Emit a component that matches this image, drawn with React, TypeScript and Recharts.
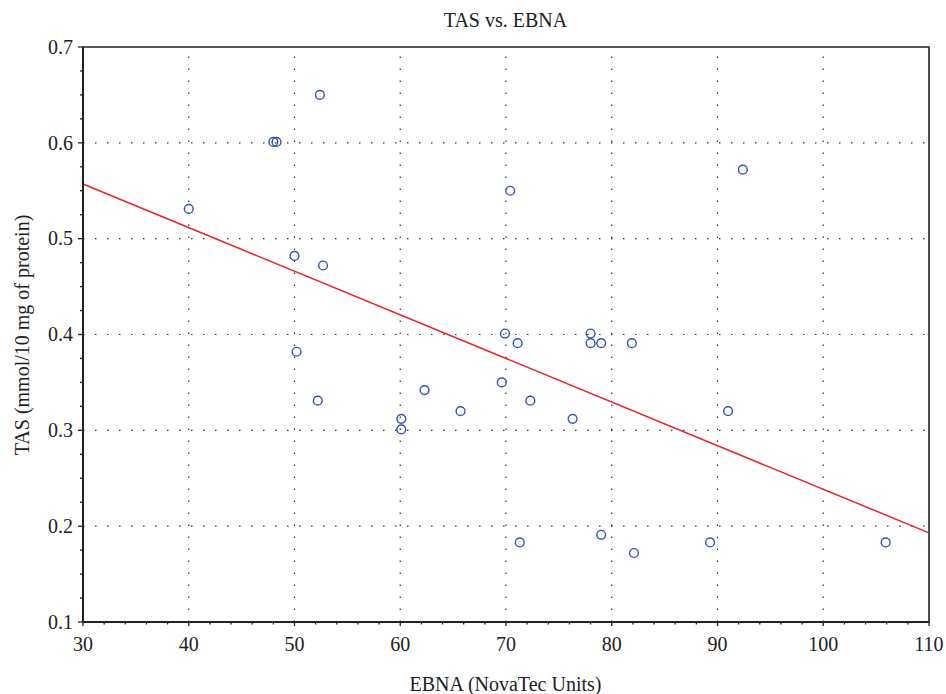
import React from 'react';
import { ScatterChart, Scatter, XAxis, YAxis, ReferenceLine, ReferenceArea, Label } from 'recharts';

// EBNA (NovaTec Units) values
const ebna = [52.4, 48.0, 48.3, 40.0, 50.0, 52.7, 50.2, 52.2, 60.1, 60.1, 62.3, 65.7, 69.9, 71.1, 78.0, 78.0, 79.0, 81.9, 70.4, 92.4, 69.6, 72.3, 76.3, 91.0, 71.3, 79.0, 82.1, 89.3, 105.9];
// TAS (mmol/10 mg of protein) values
const tas = [0.65, 0.601, 0.601, 0.531, 0.482, 0.472, 0.382, 0.331, 0.312, 0.301, 0.342, 0.32, 0.401, 0.391, 0.401, 0.391, 0.391, 0.391, 0.55, 0.572, 0.35, 0.331, 0.312, 0.32, 0.183, 0.191, 0.172, 0.183, 0.183];

const xTicks = [30, 32, 34, 36, 38, 40, 42, 44, 46, 48, 50, 52, 54, 56, 58, 60, 62, 64, 66, 68, 70, 72, 74, 76, 78, 80, 82, 84, 86, 88, 90, 92, 94, 96, 98, 100, 102, 104, 106, 108, 110];
const yTicks = [0.1, 0.125, 0.15, 0.175, 0.2, 0.225, 0.25, 0.275, 0.3, 0.325, 0.35, 0.375, 0.4, 0.425, 0.45, 0.475, 0.5, 0.525, 0.55, 0.575, 0.6, 0.625, 0.65, 0.675, 0.7];
const xGrid = [40, 50, 60, 70, 80, 90, 100];
const yGrid = [0.2, 0.3, 0.4, 0.5, 0.6];
const xDomain = [30, 110];
const yDomain = [0.1, 0.7];

// fitted regression line end points
const fitX = [30, 110];
const fitY = [0.557, 0.193];

const title = 'TAS vs. EBNA';
const xLabel = 'EBNA (NovaTec Units)';
const yLabel = 'TAS (mmol/10 mg of protein)';

const data = ebna.map((x, i) => ({ x, y: tas[i] }));

const FONT = '"Liberation Serif", "Times New Roman", serif';
const TXT = '#222';
const FS = 20;

const isMajor = (v: number, step: number) => Math.abs(v / step - Math.round(v / step)) < 1e-6;

const XTick = (props: any) => {
  const { x, y, payload } = props;
  const major = isMajor(payload.value, 10);
  return (
    <g>
      <line x1={x} x2={x} y1={y} y2={y + (major ? 4 : 2.5)} stroke="#222" strokeWidth={1.3} />
      {major && (
        <text x={x} y={y + 28.5} textAnchor="middle" fontFamily={FONT} fontSize={FS} fill={TXT}>
          {payload.value}
        </text>
      )}
    </g>
  );
};

const YTick = (props: any) => {
  const { x, y, payload } = props;
  const major = isMajor(payload.value, 0.1);
  return (
    <g>
      <line x1={x - (major ? 5 : 3)} x2={x} y1={y} y2={y} stroke="#222" strokeWidth={1.3} />
      {major && (
        <text x={x - 10} y={y + 6.8} textAnchor="end" fontFamily={FONT} fontSize={FS} fill={TXT}>
          {payload.value.toFixed(1)}
        </text>
      )}
    </g>
  );
};

const Dot = (props: any) => (
  <circle cx={props.cx} cy={props.cy} r={4.4} fill="none" stroke="#3552b0" strokeWidth={1.4} />
);

export default function App() {
  return (
    <div style={{ position: 'absolute', left: 0, top: 0 }}>
      <ScatterChart width={946} height={694} margin={{ top: 47, right: 17, bottom: 0, left: 0 }}>
        <XAxis
          type="number"
          dataKey="x"
          domain={xDomain}
          ticks={xTicks}
          interval={0}
          allowDataOverflow
          height={72}
          tickSize={0}
          tickMargin={0}
          tickLine={false}
          tick={<XTick />}
          axisLine={{ stroke: '#222', strokeWidth: 2 }}
        >
          <Label
            content={() => (
              <text x={505.5} y={691} textAnchor="middle" fontFamily={FONT} fontSize={FS} fill={TXT}>
                {xLabel}
              </text>
            )}
          />
        </XAxis>
        <YAxis
          type="number"
          dataKey="y"
          domain={yDomain}
          ticks={yTicks}
          interval={0}
          allowDataOverflow
          width={83}
          tickSize={0}
          tickMargin={0}
          tickLine={false}
          tick={<YTick />}
          axisLine={{ stroke: '#222', strokeWidth: 2 }}
        >
          <Label
            content={() => (
              <text x={29} y={335} transform="rotate(-90 29 335)" textAnchor="middle" fontFamily={FONT} fontSize={FS} fill={TXT}>
                {yLabel}
              </text>
            )}
          />
        </YAxis>
        {xGrid.map((v) => (
          <ReferenceLine key={'gx' + v} x={v} stroke="#333" strokeWidth={1.2} strokeDasharray="1.5 10.5" />
        ))}
        {yGrid.map((v) => (
          <ReferenceLine key={'gy' + v} y={v} stroke="#333" strokeWidth={1.2} strokeDasharray="1.5 10.5" />
        ))}
        <ReferenceArea x1={xDomain[0]} x2={xDomain[1]} y1={yDomain[0]} y2={yDomain[1]} fill="none" fillOpacity={0} stroke="#222" strokeWidth={1.6} />
        <ReferenceLine
          segment={[
            { x: fitX[0], y: fitY[0] },
            { x: fitX[1], y: fitY[1] },
          ]}
          stroke="#e8232a"
          strokeWidth={1.5}
        />
        <Scatter data={data} shape={<Dot />} isAnimationActive={false} />
        <text x={505.5} y={27} textAnchor="middle" fontFamily={FONT} fontSize={FS} fill={TXT}>
          {title}
        </text>
      </ScatterChart>
    </div>
  );
}
